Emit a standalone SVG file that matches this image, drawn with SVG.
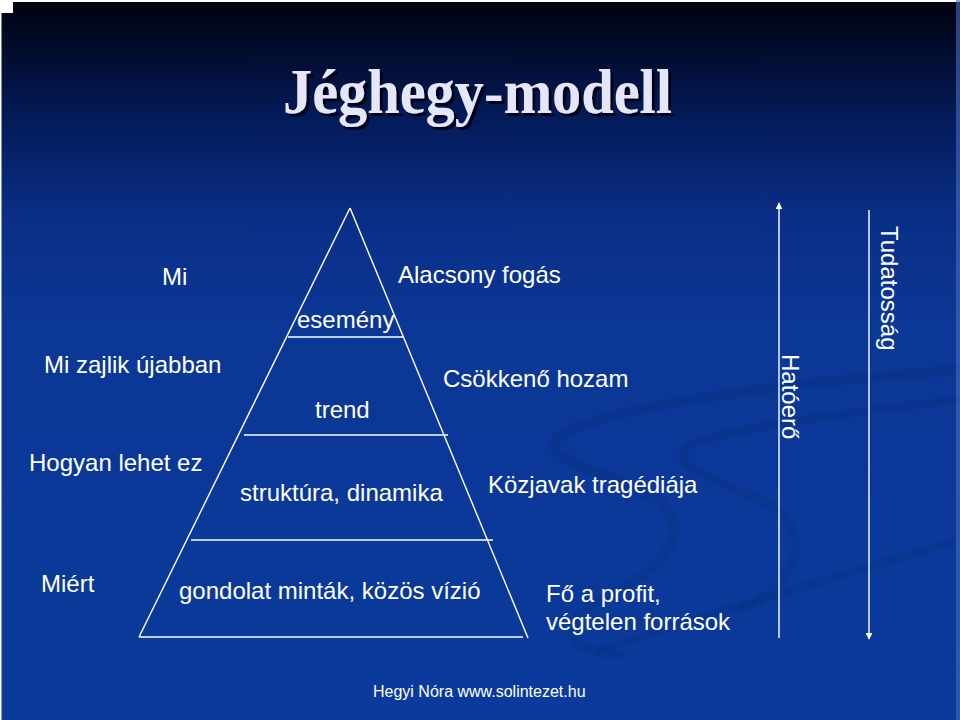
<svg xmlns="http://www.w3.org/2000/svg" width="960" height="720" viewBox="0 0 960 720">
  <defs>
    <linearGradient id="bg" x1="0" y1="0" x2="0" y2="1">
      <stop offset="0" stop-color="#00020e"/>
      <stop offset="0.06" stop-color="#010a28"/>
      <stop offset="0.16" stop-color="#041a58"/>
      <stop offset="0.3" stop-color="#0a2e86"/>
      <stop offset="0.45" stop-color="#0b3796"/>
      <stop offset="1" stop-color="#0b3a9c"/>
    </linearGradient>
    <filter id="shadow" x="-5%" y="-20%" width="110%" height="140%">
      <feDropShadow dx="3" dy="3" stdDeviation="0.6" flood-color="#000008" flood-opacity="0.85"/>
    </filter>
    <marker id="ah" viewBox="0 0 10 10" refX="9" refY="5" markerWidth="7" markerHeight="7" markerUnits="userSpaceOnUse" orient="auto">
      <path d="M0,0 L10,5 L0,10 z" fill="#ffffff"/>
    </marker>
  </defs>
  <style>
    .t { font-family: "Liberation Sans", Arial, sans-serif; font-size: 24px; fill: #ffffff; }
    .ln { stroke: #ffffff; stroke-width: 1.4; fill: none; }
    .title { font-family: "Liberation Serif", "Times New Roman", serif; font-weight: bold; font-size: 64px; fill: #e6e6fa; }
  </style>

  <!-- background -->
  <rect x="0" y="0" width="960" height="720" fill="url(#bg)"/>
  <g fill="none" stroke="#06307f" stroke-opacity="0.35" stroke-linecap="round">
    <path d="M960,370 C820,380 640,400 570,430 C520,455 600,470 640,490 C700,520 680,560 600,600 C560,625 560,650 620,655" stroke-width="10"/>
    <path d="M960,400 C860,410 720,430 690,445 C660,465 720,480 760,500 C820,530 800,580 740,610" stroke-width="8"/>
    <path d="M960,540 C860,570 720,610 600,650" stroke-width="8"/>
  </g>
  <rect x="0" y="0" width="960" height="2" fill="#ffffff"/>
  <rect x="0" y="0" width="1.5" height="720" fill="#ffffff"/>
  <rect x="0" y="0" width="13" height="13" fill="#ffffff"/>
  <rect x="956" y="0" width="4" height="720" fill="#4a6cc0" fill-opacity="0.6"/>

  <!-- title -->
  <g id="title">
    <text x="283" y="113" class="title" textLength="389" lengthAdjust="spacingAndGlyphs" filter="url(#shadow)">Jéghegy-modell</text>
  </g>

  <!-- pyramid -->
  <g id="pyramid" class="ln">
    <line x1="350" y1="208" x2="139" y2="637"/>
    <line x1="350" y1="208" x2="528" y2="638"/>
    <line x1="288" y1="337" x2="404" y2="337"/>
    <line x1="244" y1="435" x2="448" y2="435"/>
    <line x1="191" y1="540" x2="493" y2="540"/>
    <line x1="139" y1="637" x2="523" y2="637"/>
  </g>

  <g id="level-esemeny"><text class="t" x="297" y="328">esemény</text></g>
  <g id="level-trend"><text class="t" x="315" y="418">trend</text></g>
  <g id="level-struktura"><text class="t" x="240" y="501">struktúra, dinamika</text></g>
  <g id="level-gondolat"><text class="t" x="179" y="599">gondolat minták, közös vízió</text></g>

  <!-- left questions -->
  <g id="q-mi"><text class="t" x="162" y="285">Mi</text></g>
  <g id="q-zajlik"><text class="t" x="44" y="373">Mi zajlik újabban</text></g>
  <g id="q-hogyan"><text class="t" x="29" y="471">Hogyan lehet ez</text></g>
  <g id="q-miert"><text class="t" x="41" y="592">Miért</text></g>

  <!-- right effects -->
  <g id="e-alacsony"><text class="t" x="398" y="283">Alacsony fogás</text></g>
  <g id="e-csokkeno"><text class="t" x="443" y="387">Csökkenő hozam</text></g>
  <g id="e-kozjavak"><text class="t" x="488" y="493">Közjavak tragédiája</text></g>
  <g id="e-profit"><text class="t" x="546" y="602">Fő a profit,</text><text class="t" x="546" y="630">végtelen források</text></g>

  <!-- axes -->
  <g id="connectors" class="ln">
    <line x1="779" y1="638" x2="779" y2="203" marker-end="url(#ah)"/>
    <line x1="869" y1="210" x2="869" y2="639" marker-end="url(#ah)"/>
  </g>
  <g id="axis-hatoero"><text class="t" transform="translate(782,354) rotate(90)">Hatóerő</text></g>
  <g id="axis-tudatossag"><text class="t" transform="translate(881,226) rotate(90)">Tudatosság</text></g>

  <!-- footer -->
  <g id="footer"><text x="373" y="697" style="font-family: 'Liberation Sans', Arial, sans-serif; font-size: 16px; fill: #ffffff;">Hegyi Nóra www.solintezet.hu</text></g>
</svg>
